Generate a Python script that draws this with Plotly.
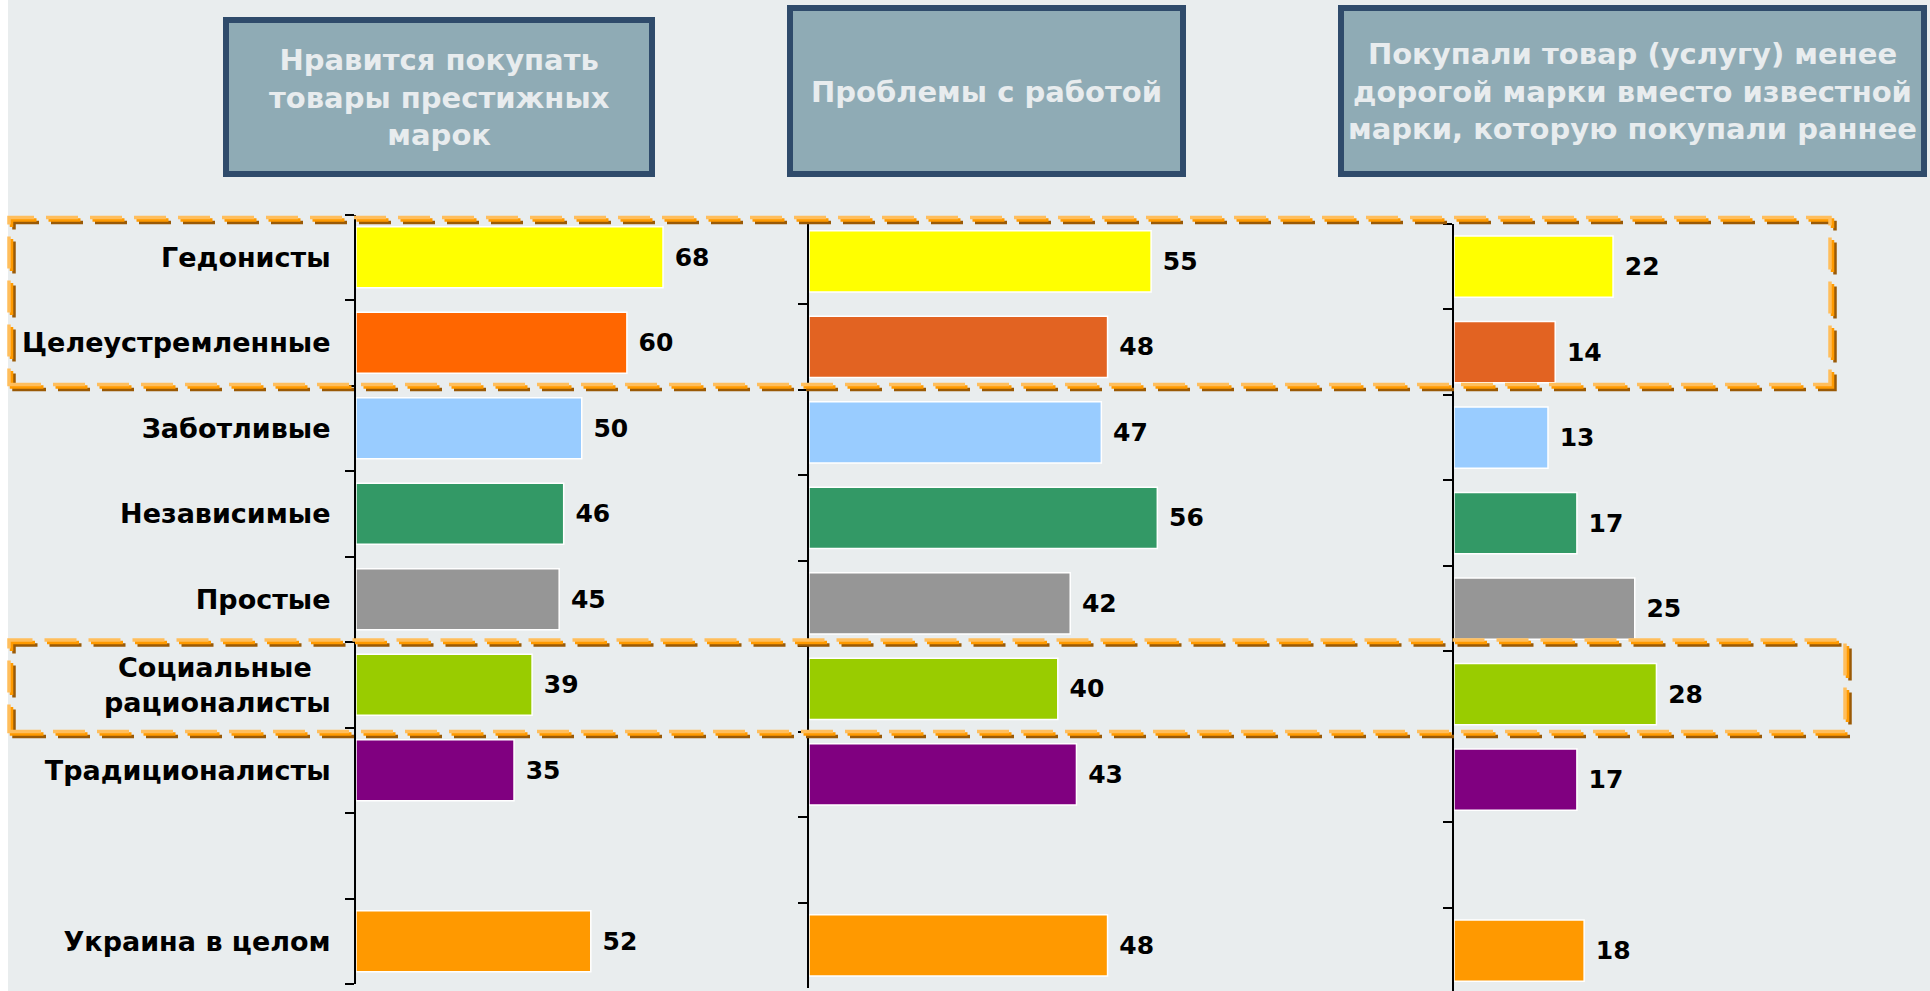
import plotly.graph_objects as go

W, H = 1930, 991

# ---------------- data ----------------
category_keys = ["Гедонисты", "Целеустремленные", "Заботливые", "Независимые", "Простые",
                 "Социальные рационалисты", "Традиционалисты", "_gap", "Украина в целом"]
tick_labels = ["Гедонисты", "Целеустремленные", "Заботливые", "Независимые", "Простые",
               "Социальные&nbsp;&nbsp;<br>рационалисты", "Традиционалисты", "", "Украина в целом"]

panel_titles = [
    "Нравится покупать<br>товары престижных<br>марок",
    "Проблемы с работой",
    "Покупали товар (услугу) менее<br>дорогой марки вместо известной<br>марки, которую покупали раннее",
]

values_prestige = [68, 60, 50, 46, 45, 39, 35, None, 52]
values_work = [55, 48, 47, 56, 42, 40, 43, None, 48]
values_cheaper = [22, 14, 13, 17, 25, 28, 17, None, 18]

colors_p1 = ["#FFFF00", "#FF6600", "#99CCFF", "#339966", "#969696",
             "#99CC00", "#800080", "#FFFFFF", "#FF9900"]
colors_p23 = ["#FFFF00", "#E26322", "#99CCFF", "#339966", "#969696",
              "#99CC00", "#800080", "#FFFFFF", "#FF9900"]

# ---------------- helpers ----------------
def fx(px):
    return px / W


def fy(py):
    return 1 - py / H


FONT = "DejaVu Sans"

fig = go.Figure()

panels = [
    # values, colors, xaxis, yaxis, axis start px, px/unit, range max, y top px, y bottom px
    (values_prestige, colors_p1, "x", "y", 356, 4.515, 95, 214.5, 984.0),
    (values_work, colors_p23, "x2", "y2", 809, 6.22, 98, 218.6, 988.0),
    (values_cheaper, colors_p23, "x3", "y3", 1454, 7.23, 65, 223.9, 991.0),
]

for i, (vals, cols, xa, ya, x0px, ppu, rmax, ytop, ybot) in enumerate(panels):
    fig.add_trace(go.Bar(
        x=vals, y=category_keys, orientation="h",
        marker=dict(color=cols, line=dict(color="white", width=1.5)),
        width=0.715,
        texttemplate="&nbsp;%{x}", textposition="outside",
        textfont=dict(family=FONT, size=25, color="black", weight="bold"),
        constraintext="none", cliponaxis=False,
        xaxis=xa, yaxis=ya, showlegend=False, hoverinfo="skip",
    ))
    sfx = "" if i == 0 else str(i + 1)
    ncat = (ybot - ytop) / ((984.0 - 214.5) / 9)
    fig.layout["xaxis" + sfx] = dict(
        domain=[fx(x0px), fx(x0px + ppu * rmax)], range=[0, rmax],
        visible=False, anchor="y" + sfx,
    )
    fig.layout["yaxis" + sfx] = dict(
        domain=[fy(ybot), fy(ytop)], anchor="x" + sfx,
        type="category", categoryorder="array", categoryarray=category_keys,
        range=[ncat - 0.5, -0.5],
        tickmode="array", tickvals=category_keys,
        ticktext=tick_labels if i == 0 else [""] * len(category_keys),
        showticklabels=(i == 0),
        tickson="boundaries", ticks="outside", ticklen=9, tickwidth=2, tickcolor="black",
        showline=True, linewidth=2, linecolor="black",
        showgrid=False, zeroline=False,
        tickfont=dict(family=FONT, size=27, color="black", weight="bold"),
        ticklabelstandoff=18,
    )

shapes = []
# background
shapes.append(dict(type="rect", xref="paper", yref="paper", x0=fx(8), x1=1, y0=0, y1=1,
                   fillcolor="#E9EDEE", line=dict(width=0), layer="below"))

# header boxes
boxes = [(226, 652, 20, 174), (790, 1183, 8, 174), (1341, 1924, 8, 174)]
for (bx0, bx1, by0, by1), title in zip(boxes, panel_titles):
    shapes.append(dict(type="rect", xref="paper", yref="paper",
                       x0=fx(bx0), x1=fx(bx1), y0=fy(by1), y1=fy(by0),
                       fillcolor="#8FABB5", line=dict(color="#2F4B6B", width=6),
                       layer="below"))
    fig.add_annotation(xref="paper", yref="paper", x=fx((bx0 + bx1) / 2), y=fy((by0 + by1) / 2 + 1),
                       text=title, showarrow=False, xanchor="center", yanchor="middle",
                       align="center",
                       font=dict(family=FONT, size=29, color="#E8ECEE", weight="bold"))

# dashed highlight frames (3D dashed look)
frames = [(9, 1830, 217.5, 384.5), (9, 1845, 640, 731.5)]
for (rx0, rx1, ry0, ry1) in frames:
    for off, col in [(5, "#9A5A06"), (2.5, "#FF9A00"), (0, "#FFBE5C")]:
        shapes.append(dict(type="rect", xref="paper", yref="paper",
                           x0=fx(rx0 + off), x1=fx(rx1 + off),
                           y0=fy(ry1 + off), y1=fy(ry0 + off),
                           line=dict(color=col, width=3.5, dash="32px,12px"),
                           fillcolor="rgba(0,0,0,0)", layer="above"))

fig.update_layout(
    width=W, height=H, autosize=False,
    margin=dict(l=0, r=0, t=0, b=0, pad=0),
    paper_bgcolor="white", plot_bgcolor="rgba(0,0,0,0)",
    shapes=shapes, bargap=0.285,
)

fig.write_html("out.html")
